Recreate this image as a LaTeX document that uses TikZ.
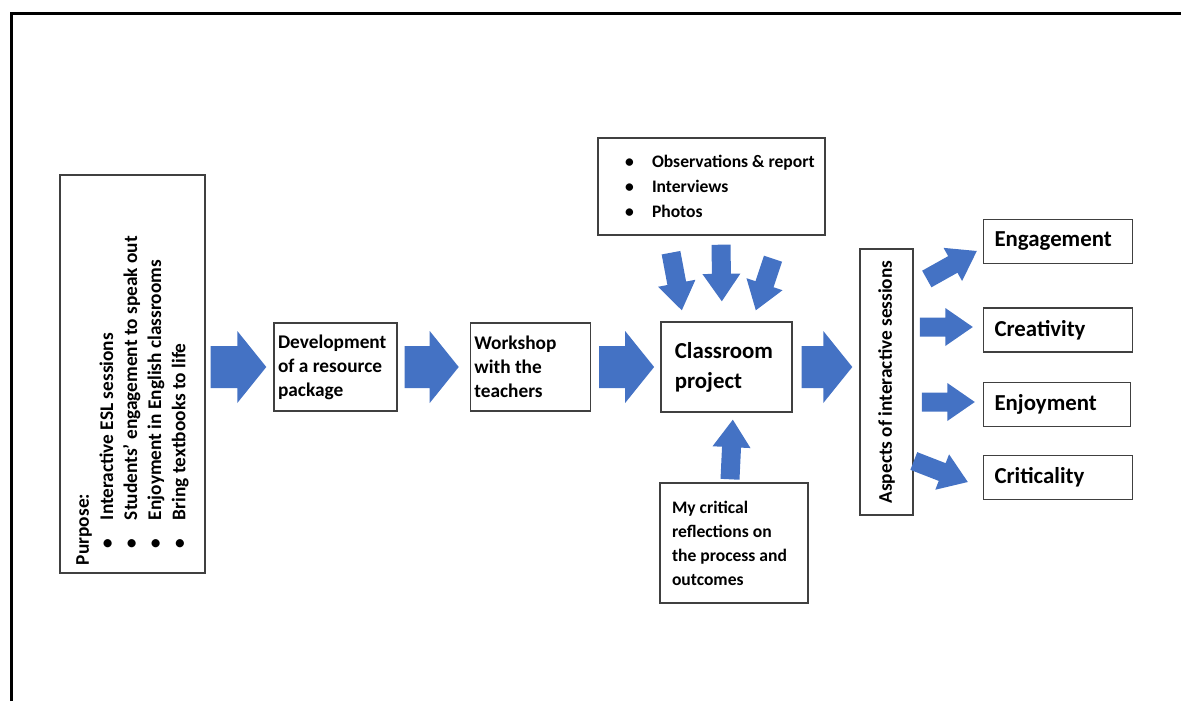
\documentclass[tikz,border=0pt]{standalone}
\usepackage{fontspec}
\setmainfont{Carlito}
\usetikzlibrary{positioning,calc}
\definecolor{arrowblue}{HTML}{4472C4}
\definecolor{boxline}{HTML}{404040}
\tikzset{
  box/.style={draw=boxline, line width=0.8pt, align=flush left, inner ysep=0pt, font=\bfseries\fontsize{11pt}{13.7pt}\selectfont},
  bigbox/.style={box, font=\bfseries\fontsize{13pt}{17pt}\selectfont},
  sidebox/.style={bigbox, text width=2.54cm, inner xsep=0.22cm, minimum height=0.88cm}
}
\newcommand{\bitem}{\hspace*{0.37cm}\makebox[0.54cm][l]{\textbullet}}
\newcommand{\blockarrow}[5]{%
  \coordinate (ba-s) at (#1);
  \coordinate (ba-e) at (#2);
  \coordinate (ba-h) at ($(ba-e)!#5!(ba-s)$);
  \fill [arrowblue] ($(ba-s)!#3!90:(ba-e)$) -- ($(ba-h)!#3!-90:(ba-s)$) -- ($(ba-h)!#4!-90:(ba-s)$) -- (ba-e)
    -- ($(ba-h)!#4!90:(ba-s)$) -- ($(ba-h)!#3!90:(ba-s)$) -- ($(ba-s)!#3!-90:(ba-e)$) -- cycle;}
\newcommand{\bigarrow}[2]{\blockarrow{#1}{#2}{0.42cm}{0.72cm}{0.58cm}}
\newcommand{\smallarrow}[2]{\blockarrow{#1}{#2}{0.19cm}{0.38cm}{0.55cm}}
\begin{document}
\begin{tikzpicture}
		\useasboundingbox (0,0) rectangle (23.62,14.02);
		\draw [line width=1.7pt] (0.23,0) -- (0.23,13.75) -- (23.62,13.75);
		\node [box, rotate=90, text width=7.64cm, inner xsep=0.16cm, minimum height=2.9cm] (purpose) at (2.65,6.54) {Purpose:\\\hspace*{0.34cm}\makebox[0.56cm][l]{\textbullet}Interactive ESL sessions\\\hspace*{0.34cm}\makebox[0.56cm][l]{\textbullet}Students' engagement to speak out\\\hspace*{0.34cm}\makebox[0.56cm][l]{\textbullet}Enjoyment in English classrooms\\\hspace*{0.34cm}\makebox[0.56cm][l]{\textbullet}Bring textbooks to life};
		\node [box, text width=2.3cm, inner xsep=0.08cm, minimum height=1.76cm] (dev) at (6.71,6.68) {Development\\of a resource\\package};
		\node [box, text width=2.24cm, inner xsep=0.08cm, minimum height=1.76cm, right=1.44cm of dev] (work) {Workshop\\with the\\teachers};
		\node [bigbox, text width=2.06cm, inner xsep=0.28cm, minimum height=1.8cm, right=1.38cm of work] (class) {Classroom\\project};
		\node [box, font=\bfseries\fontsize{10pt}{14.2pt}\selectfont, text width=4.2cm, inner xsep=0.17cm, minimum height=1.94cm] (data) at (14.23,10.29) {\bitem Observations \& report\\\bitem Interviews\\\bitem Photos};
		\node [box, font=\bfseries\fontsize{10pt}{13.7pt}\selectfont, text width=2.48cm, inner xsep=0.24cm, minimum height=2.4cm] (refl) at (14.68,3.16) {My critical\\reflections on\\the process and\\outcomes};
		\node [box, rotate=90, align=center, font=\bfseries\fontsize{11pt}{13pt}\selectfont, minimum width=5.32cm, minimum height=1.06cm] (aspects) at (17.73,6.38) {Aspects of interactive sessions};
		\node [sidebox] (eng) at (21.16,9.19) {Engagement};
		\node [sidebox] (crea) at (21.16,7.42) {Creativity};
		\node [sidebox, text width=2.5cm] (enj) at (21.14,5.93) {Enjoyment};
		\node [sidebox] (crit) at (21.16,4.47) {Criticality};
		\bigarrow{$(purpose.south |- dev.west)+(0.1,0)$}{$(dev.west)+(-0.14,0)$}
		\bigarrow{$(dev.east)+(0.14,0)$}{$(work.west)+(-0.22,0)$}
		\bigarrow{$(work.east)+(0.16,0)$}{$(class.west)+(-0.12,0)$}
		\bigarrow{$(class.east)+(0.18,0)$}{$(aspects.north |- class.east)+(-0.14,0)$}
		\smallarrow{$(data.south)+(-0.81,-0.34)$}{$(class.north)+(-0.89,0.22)$}
		\smallarrow{$(data.south)+(0.19,-0.18)$}{$(class.north)+(-0.09,0.4)$}
		\smallarrow{$(data.south)+(1.23,-0.46)$}{$(class.north)+(0.59,0.22)$}
		\smallarrow{$(refl.north)+(-0.08,0.06)$}{$(class.south)+(0.13,-0.14)$}
		\smallarrow{$(eng.west)+(-1.12,-0.75)$}{$(eng.west)+(-0.12,-0.19)$}
		\smallarrow{$(crea.west)+(-1.26,0.06)$}{$(crea.west)+(-0.2,0.06)$}
		\smallarrow{$(enj.west)+(-1.22,0.05)$}{$(enj.west)+(-0.16,0.05)$}
		\smallarrow{$(crit.west)+(-1.38,0.33)$}{$(crit.west)+(-0.3,-0.09)$}
\end{tikzpicture}
\end{document}
